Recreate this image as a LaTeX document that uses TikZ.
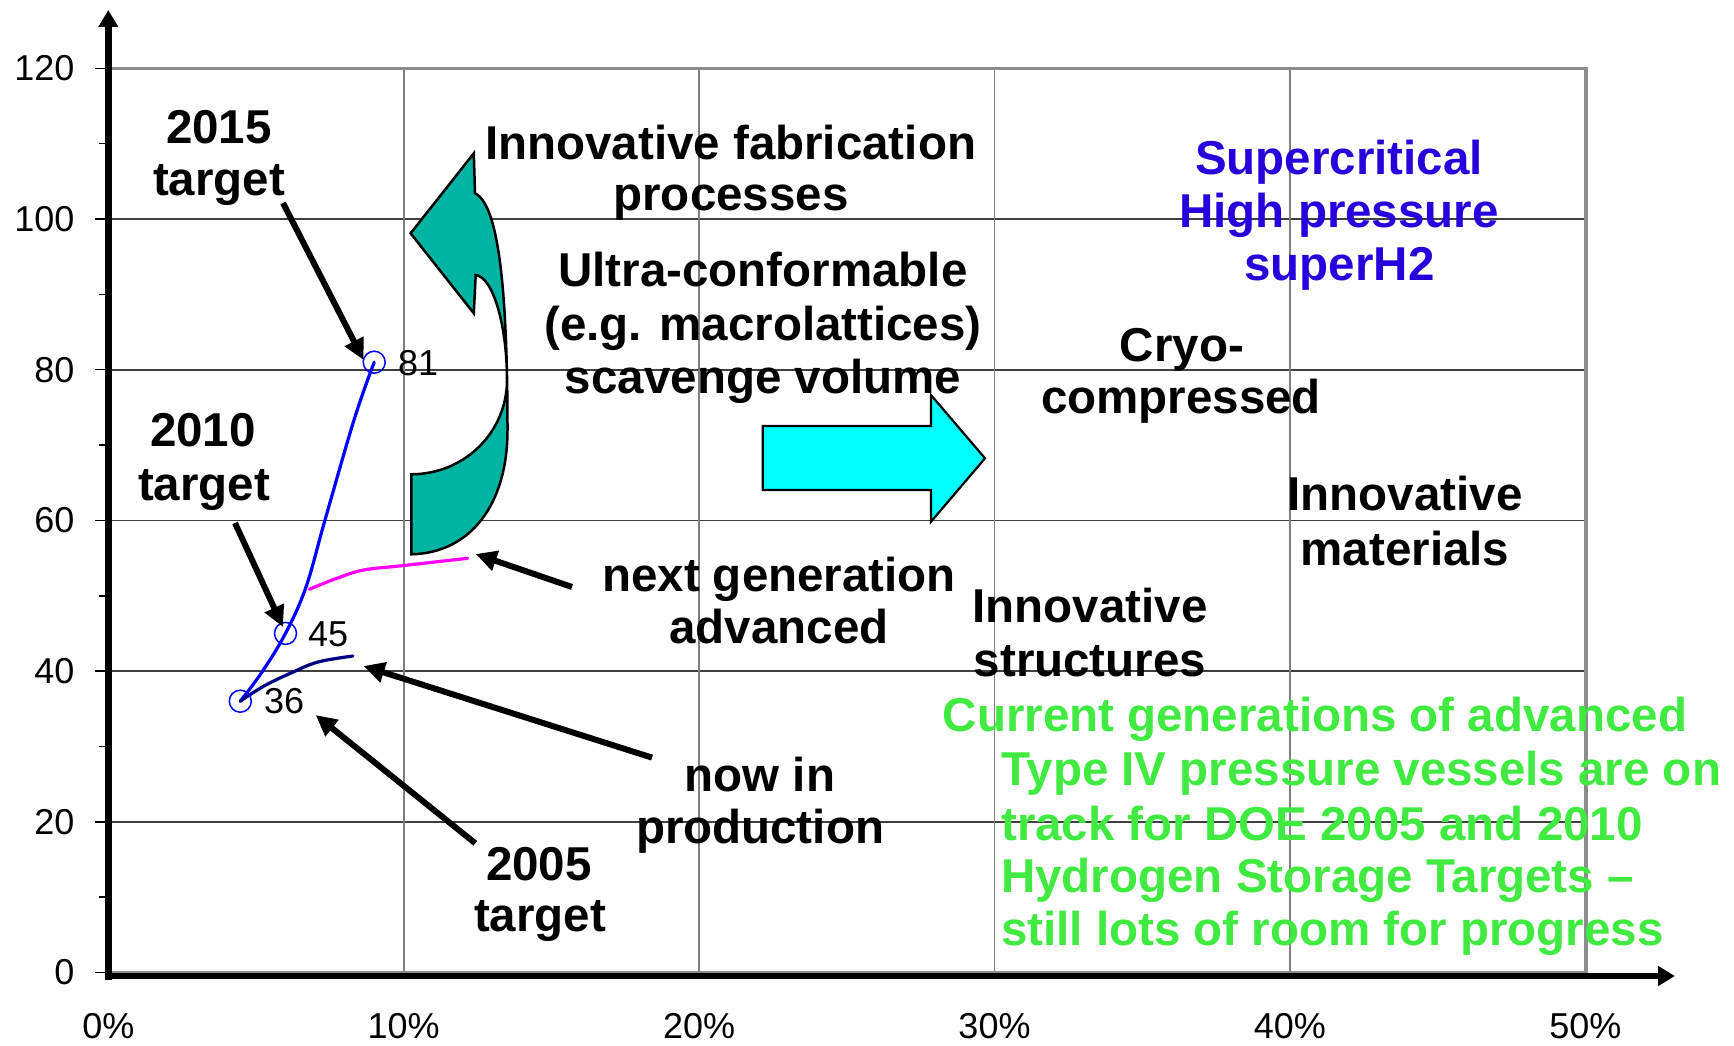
\documentclass[tikz,border=0pt]{standalone}
\usepackage{fontspec}
\setmainfont{Liberation Sans}
\usetikzlibrary{arrows.meta}
\definecolor{tealfill}{RGB}{0,180,163}
\definecolor{bluetxt}{RGB}{40,0,220}
\definecolor{greentxt}{RGB}{64,234,64}
\definecolor{navyline}{RGB}{0,0,128}
\definecolor{cyanfill}{RGB}{0,255,255}
\definecolor{magline}{RGB}{255,0,255}
\definecolor{blueline}{RGB}{0,0,255}
\tikzset{
  lbl/.style={font=\fontsize{47.5}{52}\selectfont\bfseries, inner sep=0, anchor=base},
  axl/.style={font=\fontsize{36}{40}\selectfont, inner sep=0},
  ptr/.style={line width=6, -{Triangle[length=21,width=20]}},
  hgrid/.style={draw=black!75, line width=1.6},
  vgrid/.style={draw=black!50, line width=1.6},
  frame/.style={draw=black!45, line width=3.5},
  datapt/.style={draw=blueline, line width=1.5, circle, minimum size=22, inner sep=0},
  trend/.style={line width=3.2, line cap=round}
}
\begin{document}
\begin{tikzpicture}[x=1pt,y=-1pt]
\useasboundingbox (0,0) rectangle (1734,1046);
% grid
\foreach \v in {20,40,60,80,100}{
  \draw[hgrid] (108.3,{972.5-7.535*\v}) -- (1586,{972.5-7.535*\v});
}
\foreach \p in {10,20,30,40}{
  \draw[vgrid] ({108.3+29.54*\p},68.3) -- ({108.3+29.54*\p},972.5);
}
\draw[frame] (108.3,972.5) -- (1586,972.5);
\draw[frame] (108.3,68.3) -- (1586,68.3) -- (1586,972.5);
% ticks
\foreach \v in {0,20,...,120}{
  \draw[line width=1.5] (95,{972.5-7.535*\v}) -- (108.3,{972.5-7.535*\v});
  \node[axl, anchor=east] (yl\v) at (74.6,{972.5-7.535*\v}) {\v};
}
\foreach \v in {10,30,...,110}{
  \draw[line width=1.5] (99,{972.5-7.535*\v}) -- (108.3,{972.5-7.535*\v});
}
\foreach \p in {0,10,...,50}{
  \node[axl, anchor=base] (xl\p) at ({108.3+29.54*\p},1038) {\p\%};
}
% axes
\coordinate (yb) at (108.3,979.5);
\coordinate (yt) at (108.3,10);
\coordinate (xb) at (105,976);
\coordinate (xt) at (1675,976);
\draw[line width=6.5, -{Triangle[length=17,width=19]}] (yb) -- (yt);
\draw[line width=6.5, -{Triangle[length=17,width=19]}] (xb) -- (xt);
% teal curved arrow
\draw[fill=tealfill, line width=2.5, line join=miter]
 (411.4,474.3) .. controls (465,474) and (507,432) .. (507,380)
 .. controls (507,325) and (493,277) .. (475.7,275)
 -- (473.8,313.3) -- (410.6,233.3) -- (473.8,153.3) -- (475,193.3)
 .. controls (500,205) and (507.5,300) .. (507.5,430)
 .. controls (507.5,505) and (470,553) .. (411.4,554.3) -- cycle;
% cyan block arrow
\draw[fill=cyanfill, line width=2.2, line join=miter]
 (762.7,426) -- (931,426) -- (931,395) -- (985,458.3) -- (931,521.7) -- (931,490) -- (762.7,490) -- cycle;
% data curves
\draw[trend, magline] plot[smooth, tension=0.6] coordinates {(309.3,589.3) (336.8,578.3) (363.6,570) (402,565.7) (467.7,558.3)};
\draw[trend, blueline] plot[smooth, tension=0.6] coordinates {(240.3,701.2) (262,672) (285.5,633.4) (306,587) (325,520) (354,420) (374.2,362.2)};
\draw[trend, navyline] plot[smooth, tension=0.6] coordinates {(240.3,701.2) (264,686) (291,673) (318,662) (353,656)};
% data points
\node[datapt] (p81) at (374.2,362.2) {};
\node[datapt] (p45) at (285.5,633.4) {};
\node[datapt] (p36) at (240.3,701.2) {};
\node[axl, anchor=base west] (n81) at (398,375) {81};
\node[axl, anchor=base west] (n45) at (308,646.7) {45};
\node[axl, anchor=base west] (n36) at (264,713.3) {36};
% labels
\node[lbl] (t15a) at (219,143.3) {2015};
\node[lbl] (t15b) at (219,195) {target};
\node[lbl] (t10a) at (203,446.7) {2010};
\node[lbl] (t10b) at (204,500) {target};
\node[lbl] (t05a) at (539,880) {2005};
\node[lbl] (t05b) at (540,931.7) {target};
\node[lbl] (fab1) at (730.6,159.3) {Innovative fabrication};
\node[lbl] (fab2) at (731,210) {processes};
\node[lbl] (ult1) at (763,286.7) {Ultra-conformable};
\node[lbl] (ult2) at (763,340) {(e.g. macrolattices)};
\node[lbl] (ult3) at (763,393.3) {scavenge volume};
\node[lbl] (ng1) at (779,591.7) {next generation};
\node[lbl] (ng2) at (779,643.3) {advanced};
\node[lbl] (np1) at (760,791.7) {now in};
\node[lbl] (np2) at (760,843.3) {production};
\node[lbl, text=bluetxt] (sc1) at (1339,175) {Supercritical};
\node[lbl, text=bluetxt] (sc2) at (1339,227.7) {High pressure};
\node[lbl, text=bluetxt] (sc3) at (1339.5,280) {superH2};
\node[lbl] (cr1) at (1182,361.7) {Cryo-};
\node[lbl] (cr2) at (1181,413.3) {compressed};
\node[lbl] (im1) at (1405,510) {Innovative};
\node[lbl] (im2) at (1405,565) {materials};
\node[lbl] (is1) at (1090,622.7) {Innovative};
\node[lbl] (is2) at (1090,676) {structures};
\node[lbl, text=greentxt, anchor=base west] (g1) at (942.6,731.7) {Current generations of advanced};
\node[lbl, text=greentxt, anchor=base west] (g2) at (1001,785) {Type IV pressure vessels are on};
\node[lbl, text=greentxt, anchor=base west] (g3) at (1001,840) {track for DOE 2005 and 2010};
\node[lbl, text=greentxt, anchor=base west] (g4) at (1001,892.3) {Hydrogen Storage Targets –};
\node[lbl, text=greentxt, anchor=base west] (g5) at (1001,945.7) {still lots of room for progress};
% pointer arrows
\coordinate (a15s) at (283,203);
\coordinate (a15e) at (363.6,360);
\coordinate (a10s) at (235,523);
\coordinate (a10e) at (283,627);
\coordinate (angs) at (572,587);
\coordinate (ange) at (475.7,554);
\coordinate (anps) at (652,757.6);
\coordinate (anpe) at (363.6,666);
\coordinate (a05s) at (475.3,843.3);
\coordinate (a05e) at (315.7,715);
\draw[ptr] (a15s) -- (a15e);
\draw[ptr] (a10s) -- (a10e);
\draw[ptr] (angs) -- (ange);
\draw[ptr] (anps) -- (anpe);
\draw[ptr] (a05s) -- (a05e);
\end{tikzpicture}
\end{document}
